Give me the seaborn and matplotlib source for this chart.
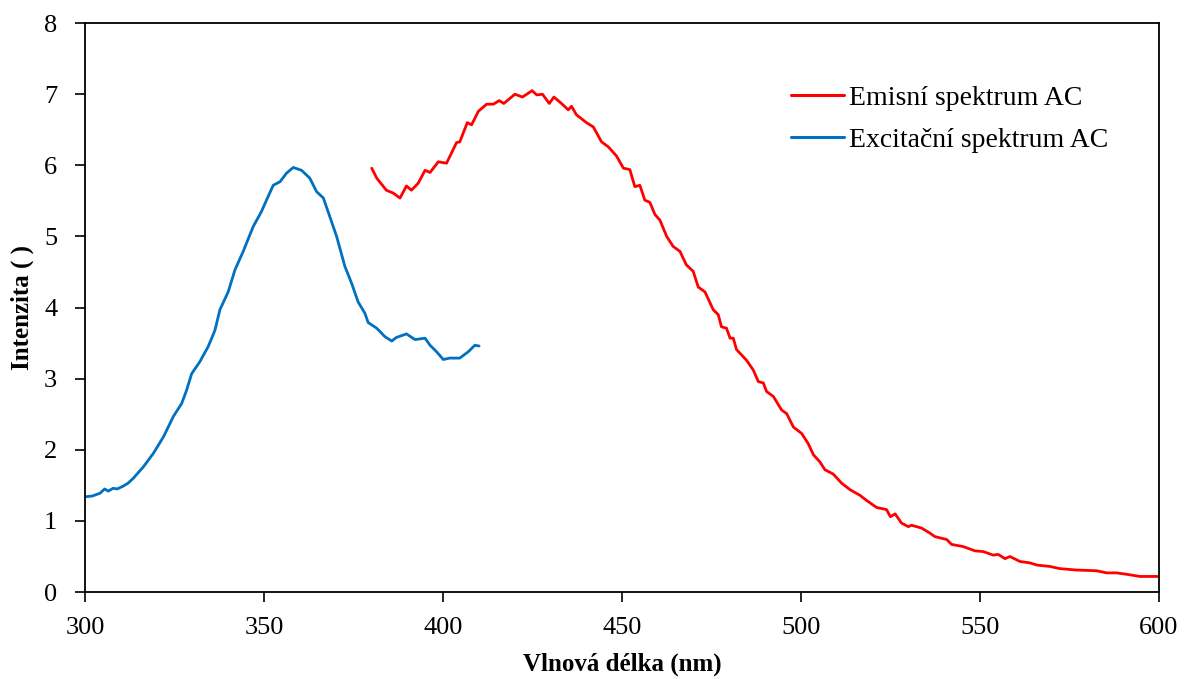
import pandas as pd
import matplotlib
matplotlib.use("Agg")
import matplotlib.pyplot as plt
import seaborn as sns

# Excitation spectrum
exc_nm = [300.0, 302.0, 304.2, 305.5, 306.5, 307.9, 309.0, 310.7, 312.0, 313.5,
          316.3, 319.1, 321.9, 324.7, 327.0, 328.4, 329.8, 332.1, 334.4, 336.3,
          337.7, 340.0, 341.9, 344.2, 347.0, 349.3, 350.7, 352.6, 354.5, 356.3,
          358.2, 360.5, 362.8, 364.7, 366.6, 367.9, 370.3, 372.6, 374.5, 376.3,
          378.2, 379.1, 381.5, 383.8, 385.7, 387.0, 389.8, 392.2, 395.0, 396.4,
          398.2, 400.1, 401.9, 404.7, 407.1, 408.9, 410.1]
exc_val = [1.34, 1.35, 1.39, 1.45, 1.42, 1.46, 1.45, 1.49, 1.53, 1.60,
           1.76, 1.95, 2.18, 2.47, 2.65, 2.84, 3.07, 3.24, 3.45, 3.68,
           3.97, 4.22, 4.53, 4.79, 5.14, 5.35, 5.51, 5.72, 5.77, 5.89,
           5.97, 5.93, 5.82, 5.63, 5.54, 5.35, 5.00, 4.58, 4.34, 4.08,
           3.92, 3.79, 3.71, 3.59, 3.53, 3.58, 3.63, 3.55, 3.57, 3.47,
           3.38, 3.27, 3.29, 3.29, 3.38, 3.47, 3.46]

# Emission spectrum
em_nm = [380.1, 381.5, 384.2, 386.1, 388.0, 389.8, 391.2, 393.1, 395.0, 396.4,
         398.7, 401.0, 403.8, 404.7, 406.8, 408.0, 409.9, 412.2, 414.1, 415.7,
         417.0, 420.1, 422.2, 424.9, 426.2, 427.8, 429.7, 431.0, 433.1, 435.0,
         435.9, 437.3, 440.1, 442.0, 444.3, 446.2, 448.5, 450.4, 452.2, 453.6,
         455.0, 456.4, 457.8, 459.2, 460.6, 462.5, 464.3, 466.2, 468.0, 469.9,
         471.3, 473.2, 475.5, 476.9, 477.8, 479.2, 480.2, 481.1, 482.0, 484.8,
         486.7, 488.1, 489.5, 490.4, 492.3, 494.6, 496.0, 497.9, 500.2, 502.0,
         503.5, 505.3, 506.7, 509.0, 511.4, 513.7, 516.5, 518.3, 521.1, 523.9,
         525.0, 526.3, 528.1, 530.0, 530.9, 533.7, 536.0, 537.4, 540.7, 542.1,
         545.3, 548.6, 550.9, 553.7, 555.1, 557.0, 558.4, 561.2, 564.0, 565.9,
         569.6, 572.3, 577.0, 582.6, 585.4, 588.2, 591.0, 594.7, 599.8]
em_val = [5.96, 5.82, 5.65, 5.61, 5.54, 5.71, 5.65, 5.75, 5.93, 5.90,
          6.05, 6.03, 6.32, 6.33, 6.60, 6.57, 6.76, 6.86, 6.86, 6.91,
          6.87, 7.00, 6.96, 7.05, 6.99, 7.00, 6.87, 6.96, 6.87, 6.78,
          6.83, 6.71, 6.60, 6.54, 6.33, 6.26, 6.13, 5.96, 5.94, 5.70,
          5.72, 5.51, 5.48, 5.31, 5.23, 5.00, 4.86, 4.79, 4.60, 4.51,
          4.29, 4.22, 3.97, 3.90, 3.73, 3.71, 3.57, 3.57, 3.41, 3.26,
          3.12, 2.96, 2.94, 2.82, 2.75, 2.56, 2.51, 2.32, 2.23, 2.09,
          1.93, 1.83, 1.72, 1.66, 1.53, 1.44, 1.36, 1.29, 1.19, 1.16,
          1.06, 1.10, 0.97, 0.92, 0.94, 0.90, 0.83, 0.78, 0.74, 0.67,
          0.64, 0.58, 0.57, 0.52, 0.53, 0.47, 0.50, 0.43, 0.41, 0.38,
          0.36, 0.33, 0.31, 0.30, 0.27, 0.27, 0.25, 0.22, 0.22]

EM_COLOR = "#FF0000"
EXC_COLOR = "#0070C0"

sns.set_style("white")
plt.rcParams["font.family"] = ["Liberation Serif", "DejaVu Serif"]
plt.rcParams["text.color"] = "black"
plt.rcParams["axes.labelcolor"] = "black"

fig = plt.figure(figsize=(11.85, 6.79), dpi=100)
ax = fig.add_axes([0.0717, 0.128, 0.9063, 0.838])

em_df = pd.DataFrame({"nm": em_nm, "val": em_val})
exc_df = pd.DataFrame({"nm": exc_nm, "val": exc_val})

sns.lineplot(data=em_df, x="nm", y="val", ax=ax, color=EM_COLOR,
             linewidth=2.0, label="Emisní spektrum AC", sort=False)
sns.lineplot(data=exc_df, x="nm", y="val", ax=ax, color=EXC_COLOR,
             linewidth=2.0, label="Excitační spektrum AC", sort=False)

ax.set_xlim(300, 600)
ax.set_ylim(0, 8)
ax.set_xticks(range(300, 601, 50))
ax.set_yticks(range(0, 9))

ax.set_xlabel("Vlnová délka (nm)", fontsize=18, fontweight="bold",
              labelpad=10, color="black")
ax.set_ylabel("Intenzita ( )", fontsize=18, fontweight="bold",
              labelpad=7, color="black")

ax.tick_params(axis="both", which="major", labelsize=19, direction="out",
               length=7, width=1.2, colors="black", labelcolor="black")
ax.tick_params(axis="x", bottom=True, top=False, pad=11)
ax.tick_params(axis="y", left=True, right=False, pad=13)

for side in ["left", "right", "top", "bottom"]:
    ax.spines[side].set_visible(True)
    ax.spines[side].set_color("black")
    ax.spines[side].set_linewidth(1.3)

leg = ax.legend(loc="upper left", bbox_to_anchor=(0.634, 0.935), frameon=False,
                fontsize=20, handlelength=1.9, handletextpad=0.2,
                labelspacing=0.6)
for line in leg.get_lines():
    line.set_linewidth(2.2)
for txt in leg.get_texts():
    txt.set_color("black")

fig.savefig("out.png", dpi=100)
plt.close(fig)
